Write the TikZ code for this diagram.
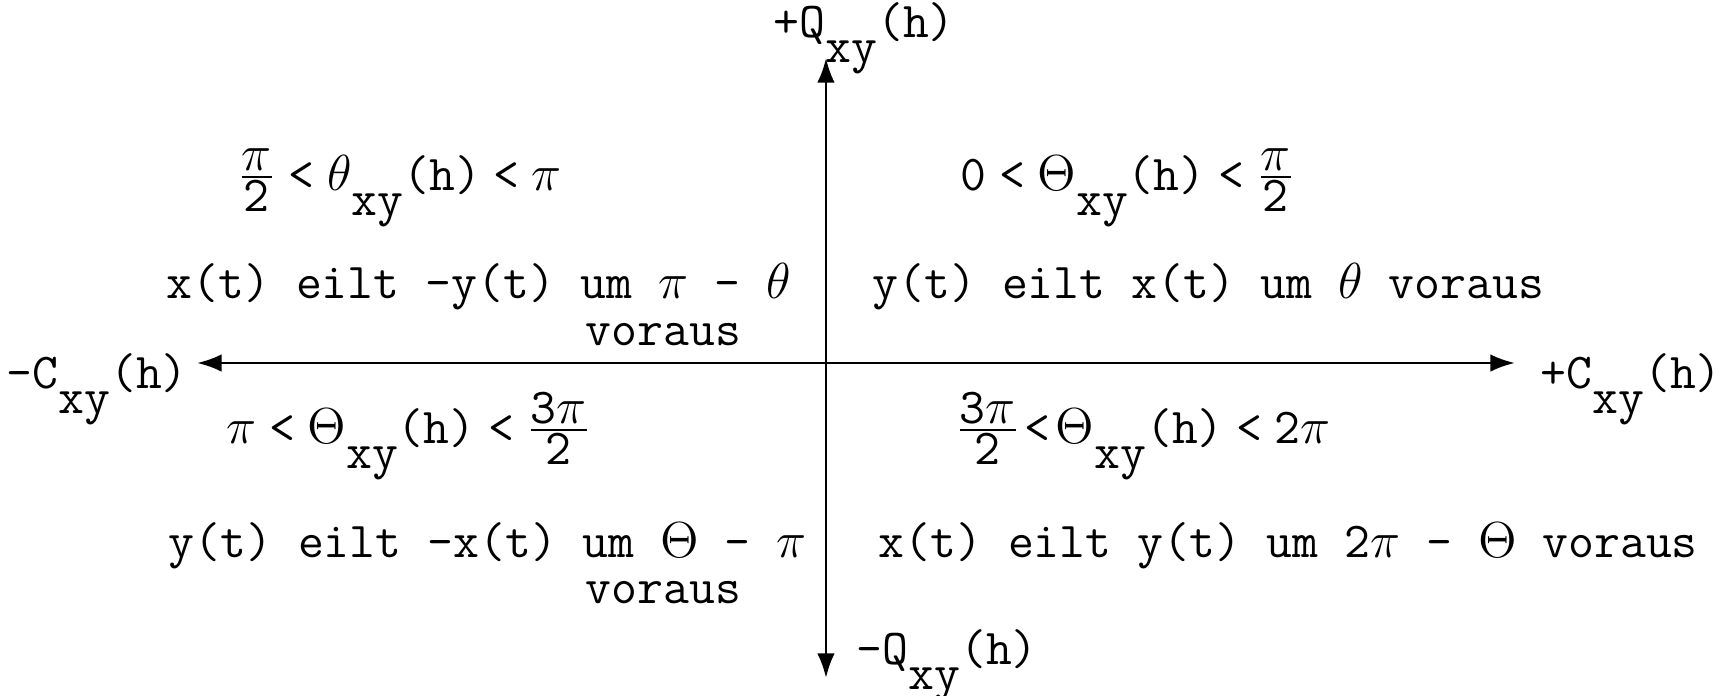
\documentclass[tikz,border=0pt]{standalone}
\usepackage{amsmath}
\usepackage{fontspec}
\usepackage{tikz}
\usetikzlibrary{positioning,arrows.meta}

\newcommand{\sub}[1]{\raisebox{-0.5em}{#1}}
\newcommand{\frc}[2]{$\frac{\mbox{#1}}{\mbox{#2}}$}
\newcommand{\lt}{\hspace{.25em}<\hspace{.25em}}
\tikzset{
    axis/.style={thick, {Latex[length=7pt,width=5pt]}-{Latex[length=7pt,width=5pt]}},
    lbl/.style={inner sep=0pt, anchor=base west, font=\ttfamily\fontsize{14.3}{17}\selectfont}
}

\begin{document}
\begin{tikzpicture}

        \useasboundingbox (-8.26,-3.32) rectangle (9.05,3.63);

        \coordinate (o) at (0,0);
        \coordinate (xl) at (-6.29,0);
        \coordinate (xr) at (6.89,0);
        \coordinate (yt) at (0,3.05);
        \coordinate (yb) at (0,-3.15);

        \draw[axis] (xl) -- (xr);
        \draw[axis] (yb) -- (yt);

        % axis labels
        \node[lbl] (qplus) at (-0.53,3.26) {+Q\sub{xy}(h)};
        \node[lbl] (qminus) at (0.30,-3.01) {-Q\sub{xy}(h)};
        \node[lbl] (cminus) at (-8.20,-0.25) {-C\sub{xy}(h)};
        \node[lbl] (cplus) at (7.14,-0.25) {+C\sub{xy}(h)};

        % quadrants
        \node[lbl] (ul1) at (-5.89,1.73) {\frc{$\pi$}{2}\lt$\theta$\sub{xy}(h)\lt$\pi$};
        \node[lbl] (ur1) at (1.34,1.73) {0\lt$\Theta$\sub{xy}(h)\lt\frc{$\pi$}{2}};
        \node[lbl] (ul2) at (-6.60,0.65) {x(t) eilt -y(t) um $\pi$ - $\theta$};
        \node[lbl] (ul3) at (-2.41,0.18) {voraus};
        \node[lbl] (ur2) at (0.46,0.65) {y(t) eilt x(t) um $\theta$ voraus};

        \node[lbl] (ll1) at (-6.00,-0.80) {$\pi$\lt$\Theta$\sub{xy}(h)\lt\frc{3$\pi$}{2}};
        \node[lbl] (lr1) at (1.29,-0.80) {\frc{3$\pi$}{2}\hspace{.1em}<\hspace{.1em}$\Theta$\sub{xy}(h)\lt 2$\pi$};
        \node[lbl] (ll2) at (-6.58,-1.94) {y(t) eilt -x(t) um $\Theta$ - $\pi$};
        \node[lbl] (ll3) at (-2.41,-2.40) {voraus};
        \node[lbl] (lr2) at (0.52,-1.94) {x(t) eilt y(t) um 2$\pi$ - $\Theta$ voraus};

    \end{tikzpicture}
\end{document}
